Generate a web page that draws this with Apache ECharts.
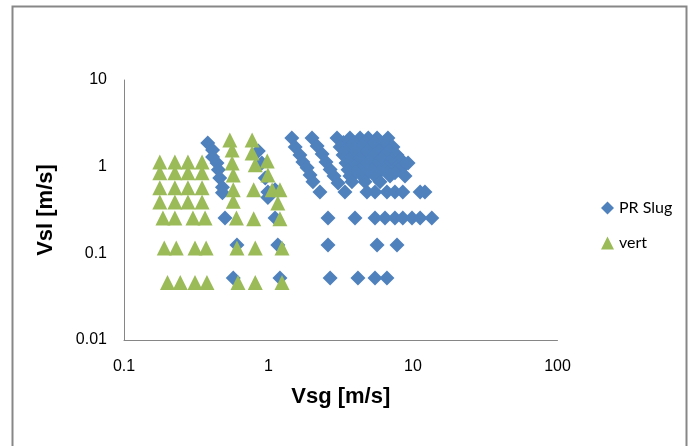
<!DOCTYPE html>
<html>
<head>
<meta charset="utf-8">
<script src="https://cdn.jsdelivr.net/npm/echarts@6/dist/echarts.min.js"></script>
<style>
html,body{margin:0;padding:0;background:#fff;}
#chart{width:699px;height:446px;}
</style>
</head>
<body>
<div id="chart"></div>
<script>
// ---- data ----
var seriesNames = ["PR Slug", "vert"];
var xTickLabels = ["0.1", "1", "10", "100"];
var yTickLabels = ["0.01", "0.1", "1", "10"];

var prSlugVsg = [
  // left band
  0.38, 0.41, 0.41, 0.44, 0.45, 0.46, 0.48, 0.48,
  // middle band
  0.85, 0.90, 0.95, 0.99, 0.99, 1.11,
  // band 1
  1.45, 1.53, 1.65, 1.73, 1.85, 1.94, 2.03,
  // band 2
  2.00, 2.17, 2.35, 2.50, 2.67, 2.84, 3.03,
  // main cluster
  2.98, 3.66, 4.30, 4.90, 5.64, 6.71,
  3.30, 3.90, 4.60, 5.40, 6.30,
  3.13, 3.78, 4.44, 5.20, 6.20, 7.27,
  3.40, 4.10, 4.90, 5.80, 6.80,
  3.28, 4.00, 4.65, 5.46, 6.50, 7.75,
  3.60, 4.30, 5.10, 6.00, 7.10, 8.20,
  3.44, 4.16, 4.88, 5.73, 6.93, 9.24,
  3.90, 4.60, 5.50, 6.50, 7.80, 8.50,
  3.55, 4.30, 5.20, 6.40, 7.87,
  4.00, 4.90, 5.80, 7.50,
  3.66, 4.44, 5.46, 6.93, 8.80,
  3.78, 4.65, 5.91,
  // Vsl ~0.5 row
  2.27, 3.38, 4.80, 5.46, 6.60, 7.50, 8.50, 11.2, 12.1,
  // Vsl ~0.25 row
  0.50, 1.11, 2.58, 3.97, 5.46, 6.40, 7.50, 8.50, 9.84, 11.2, 13.5,
  // Vsl ~0.12 row
  0.605, 1.16, 2.58, 5.64, 7.75,
  // Vsl ~0.05 row
  0.57, 1.20, 2.67, 4.16, 5.46, 6.60
];
var prSlugVsl = [
  1.88, 1.56, 1.29, 1.10, 0.92, 0.74, 0.58, 0.50,
  1.52, 1.10, 0.74, 0.51, 0.44, 0.54,
  2.14, 1.69, 1.36, 1.13, 0.97, 0.80, 0.67,
  2.14, 1.73, 1.40, 1.13, 0.93, 0.78, 0.65,
  2.14, 2.14, 2.14, 2.14, 2.14, 2.14,
  1.90, 1.90, 1.90, 1.90, 1.90,
  1.69, 1.69, 1.69, 1.69, 1.69, 1.69,
  1.52, 1.52, 1.52, 1.52, 1.52,
  1.36, 1.36, 1.36, 1.36, 1.36, 1.36,
  1.22, 1.22, 1.22, 1.22, 1.22, 1.22,
  1.10, 1.10, 1.10, 1.10, 1.10, 1.10,
  1.00, 1.00, 1.00, 1.00, 1.00, 1.00,
  0.92, 0.92, 0.92, 0.92, 0.92,
  0.85, 0.85, 0.85, 0.85,
  0.78, 0.78, 0.78, 0.78, 0.78,
  0.67, 0.67, 0.67,
  0.51, 0.51, 0.51, 0.51, 0.51, 0.51, 0.51, 0.51, 0.51,
  0.256, 0.256, 0.256, 0.256, 0.256, 0.256, 0.256, 0.256, 0.256, 0.256, 0.256,
  0.125, 0.125, 0.125, 0.125, 0.125,
  0.052, 0.052, 0.052, 0.052, 0.052, 0.052
];

var vertVsg = [
  // left block
  0.177, 0.225, 0.277, 0.347,
  0.177, 0.225, 0.277, 0.347,
  0.177, 0.225, 0.277, 0.347,
  0.177, 0.225, 0.277, 0.347,
  0.186, 0.225, 0.300, 0.364,
  0.190, 0.230, 0.310, 0.370,
  0.200, 0.245, 0.310, 0.375,
  // column ~0.55
  0.54, 0.56, 0.56, 0.57, 0.57, 0.57, 0.60, 0.605, 0.615,
  // column ~0.8
  0.77, 0.77, 0.81, 0.79, 0.79, 0.81, 0.81,
  // column ~1.0-1.2
  0.98, 0.99, 1.06, 1.20, 1.16, 1.20, 1.24, 1.24
];
var vertVsl = [
  1.13, 1.13, 1.13, 1.13,
  0.85, 0.85, 0.85, 0.85,
  0.57, 0.57, 0.57, 0.57,
  0.39, 0.39, 0.39, 0.39,
  0.255, 0.255, 0.255, 0.255,
  0.115, 0.115, 0.115, 0.115,
  0.046, 0.046, 0.046, 0.046,
  2.03, 1.56, 1.10, 0.80, 0.54, 0.40, 0.256, 0.115, 0.046,
  2.03, 1.44, 1.05, 0.54, 0.25, 0.115, 0.046,
  1.16, 0.80, 0.54, 0.54, 0.38, 0.25, 0.115, 0.046
];

function pairs(xs, ys) {
  var out = [];
  for (var i = 0; i < xs.length; i++) out.push([xs[i], ys[i]]);
  return out;
}

var chart = echarts.init(document.getElementById('chart'), null, {renderer: 'canvas'});
var labelFont = {fontFamily: 'Liberation Sans', fontSize: 16, color: '#000'};
var titleFont = {fontFamily: 'Liberation Sans', fontSize: 22, fontWeight: 'bold', color: '#000'};

chart.setOption({
  animation: false,
  backgroundColor: '#fff',
  graphic: [{
    type: 'rect',
    shape: {x: 12.5, y: 6.5, width: 674, height: 460},
    style: {fill: 'none', stroke: '#878787', lineWidth: 2},
    silent: true
  }],
  grid: {left: 124, top: 80, width: 433.5, height: 260, containLabel: false},
  legend: {
    orient: 'vertical',
    left: 596,
    top: 195,
    itemWidth: 13,
    itemHeight: 13,
    itemGap: 19,
    textStyle: {fontFamily: 'Lato', fontSize: 16, color: '#000'},
    data: [
      {name: seriesNames[0], icon: 'diamond'},
      {name: seriesNames[1], icon: 'triangle'}
    ]
  },
  xAxis: {
    type: 'log',
    logBase: 10,
    min: 0.1,
    max: 100,
    name: 'Vsg [m/s]',
    nameLocation: 'middle',
    nameGap: 46,
    nameTextStyle: titleFont,
    axisLine: {show: true, lineStyle: {color: '#868686', width: 1}},
    axisTick: {show: false},
    splitLine: {show: false},
    axisLabel: Object.assign({margin: 19, formatter: function (v) {
      var idx = Math.round(Math.log10(v)) + 1;
      return xTickLabels[idx] !== undefined ? xTickLabels[idx] : '';
    }}, labelFont)
  },
  yAxis: {
    type: 'log',
    logBase: 10,
    min: 0.01,
    max: 10,
    name: 'Vsl [m/s]',
    nameLocation: 'middle',
    nameGap: 67,
    nameRotate: 90,
    nameTextStyle: titleFont,
    axisLine: {show: true, lineStyle: {color: '#868686', width: 1}},
    axisTick: {show: false},
    splitLine: {show: false},
    axisLabel: Object.assign({margin: 17, formatter: function (v) {
      var idx = Math.round(Math.log10(v)) + 2;
      return yTickLabels[idx] !== undefined ? yTickLabels[idx] : '';
    }}, labelFont)
  },
  series: [
    {
      name: seriesNames[0],
      type: 'scatter',
      symbol: 'diamond',
      symbolSize: 15,
      itemStyle: {color: '#4F81BD', opacity: 1},
      data: pairs(prSlugVsg, prSlugVsl)
    },
    {
      name: seriesNames[1],
      type: 'scatter',
      symbol: 'triangle',
      symbolSize: 15,
      itemStyle: {color: '#9BBB59', opacity: 1},
      data: pairs(vertVsg, vertVsl)
    }
  ]
});
</script>
</body>
</html>
